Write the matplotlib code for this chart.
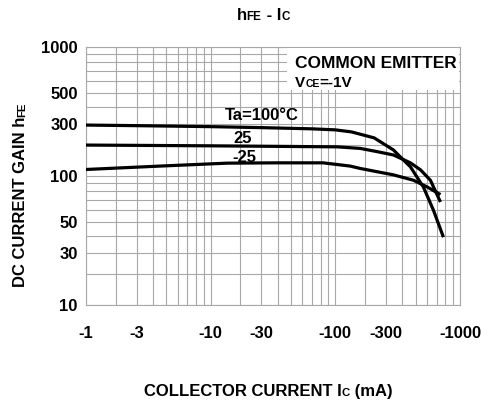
"""hFE - IC characteristic, common emitter, VCE = -1 V.

Output: out.png
"""

import matplotlib
matplotlib.use("Agg")
import matplotlib.pyplot as plt
import numpy as np
from matplotlib.patches import Rectangle
from matplotlib.ticker import FixedLocator, FixedFormatter, NullFormatter

# |Ic| in mA and DC current gain
ic_100 = [1, 3, 10, 30, 70, 100, 150, 240, 343, 387, 458, 567, 665, 777]
hfe_100 = [292, 289, 284, 279, 273, 268, 258, 231, 182, 157, 126, 85, 60, 39]

ic_25 = [1, 10, 105, 181, 254, 343, 458, 541, 634, 742]
hfe_25 = [201, 198, 194, 188, 176, 164, 138, 117, 94, 68]

ic_m25 = [1, 4.5, 15, 40, 83, 145, 181, 343, 482, 605, 742]
hfe_m25 = [118, 128, 137, 138, 138, 128, 121, 103, 94, 85, 76]

x_ticks = [1, 3, 10, 30, 100, 300, 1000]
x_labels = ["-1", "-3", "-10", "-30", "-100", "-300", "-1000"]
y_ticks = [10, 30, 50, 100, 300, 500, 1000]
y_labels = ["10", "30", "50", "100", "300", "500", "1000"]

W, H = 492, 405

plt.rcParams["font.family"] = ["Liberation Sans", "DejaVu Sans"]
plt.rcParams["font.weight"] = "bold"
plt.rcParams["font.size"] = 12


# the printed log paper is a bit squashed inside each decade
def fwd(v):
    v = np.clip(np.asarray(v, float), 1e-12, None)
    lv = np.log10(v)
    k = np.floor(lv)
    m = v / 10.0**k
    return k + np.log10((m + 1) / 2) / np.log10(5.5)


def inv(t):
    t = np.asarray(t, float)
    k = np.floor(t)
    return (2 * 5.5 ** (t - k) - 1) * 10.0**k


def decade_grid(lo, hi):
    vals = []
    d = lo
    while d < hi:
        vals += [d * i for i in range(1, 10)]
        d *= 10
    vals.append(hi)
    return vals


fig = plt.figure(figsize=(W / 100, H / 100), dpi=100)
ax = fig.add_axes([86 / W, 1 - 305 / H, 374 / W, 258 / H])

ax.set_xscale("function", functions=(fwd, inv))
ax.set_yscale("function", functions=(fwd, inv))
ax.set_xlim(1, 1000)
ax.set_ylim(10, 1000)

for x, y in [(ic_100, hfe_100), (ic_25, hfe_25), (ic_m25, hfe_m25)]:
    ax.plot(x, y, color="black", lw=2.3, solid_capstyle="butt",
            solid_joinstyle="round", zorder=3)

ax.xaxis.set_major_locator(FixedLocator(x_ticks))
ax.xaxis.set_major_formatter(FixedFormatter(x_labels))
ax.xaxis.set_minor_locator(FixedLocator([v for v in decade_grid(1, 1000) if v not in x_ticks]))
ax.xaxis.set_minor_formatter(NullFormatter())
ax.yaxis.set_major_locator(FixedLocator(y_ticks))
ax.yaxis.set_major_formatter(FixedFormatter(y_labels))
ax.yaxis.set_minor_locator(FixedLocator([v for v in decade_grid(10, 1000) if v not in y_ticks]))
ax.yaxis.set_minor_formatter(NullFormatter())

ax.tick_params(which="both", length=0)
ax.tick_params(axis="x", pad=15)
ax.tick_params(axis="y", pad=6)
ax.grid(True, which="both", color="#a8a8a8", lw=0.8)
ax.set_axisbelow(True)
for s in ax.spines.values():
    s.set_color("#a8a8a8")
    s.set_linewidth(0.8)


def rich(x, y, parts, size, ratio=0.68, rotation=0, align="center"):
    """Draw (text, small) pieces on one baseline; x, y in px from top-left."""
    r = fig.canvas.get_renderer()
    arts, lens = [], []
    for s, small in parts:
        t = fig.text(0, 0, s, fontsize=size * (ratio if small else 1.0),
                     rotation=rotation, rotation_mode="anchor",
                     ha="left", va="baseline")
        bb = t.get_window_extent(r)
        arts.append(t)
        lens.append(bb.width if rotation == 0 else bb.height)
    pos = -sum(lens) / 2 if align == "center" else 0.0
    for t, n in zip(arts, lens):
        if rotation == 0:
            t.set_position(((x + pos) / W, 1 - y / H))
        else:
            t.set_position((x / W, 1 - (y - pos) / H))
        pos += n


rich(263, 20.5, [("h", 0), ("FE", 1), (" - I", 0), ("C", 1)], 12, ratio=0.7)
rich(25, 195, [("DC CURRENT GAIN h", 0), ("FE", 1)], 12, rotation=90)
rich(268, 396, [("COLLECTOR CURRENT I", 0), ("C", 1), (" (mA)", 0)], 12)

# white box for the test condition
fig.add_artist(Rectangle((287 / W, 1 - 90 / H), (459 - 287) / W, (90 - 48) / H,
                         transform=fig.transFigure, fc="white", ec="none", zorder=1.5))
rich(295, 68.3, [("COMMON EMITTER", 0)], 12.5, align="left")
rich(295, 86.7, [("V", 0), ("CE", 1), ("=-1V", 0)], 11, align="left")

# curve labels
fig.text(262 / W, 1 - 120 / H, "Ta=100°C", ha="center", va="baseline", fontsize=12)
fig.text(243 / W, 1 - 143 / H, "25", ha="center", va="baseline", fontsize=12)
fig.text(244 / W, 1 - 161.5 / H, "-25", ha="center", va="baseline", fontsize=12)

fig.savefig("out.png", dpi=100, facecolor="white")
